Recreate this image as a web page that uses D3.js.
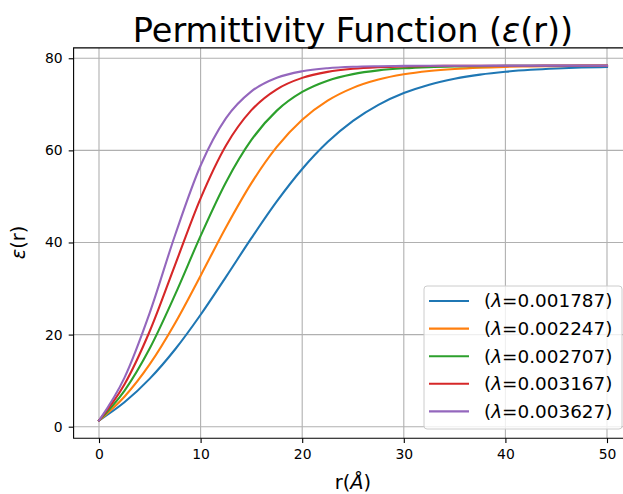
<!DOCTYPE html>
<html>
<head>
<meta charset="utf-8">
<script src="https://cdn.jsdelivr.net/npm/d3@7"></script>
<style>
  body { margin: 0; background: #fff; }
  svg { display: block; font-family: 'DejaVu Sans', sans-serif; }
  .grid line { stroke: #b0b0b0; stroke-width: 1.1; }
  .spine { stroke: #000; stroke-width: 1.1; fill: none; }
</style>
</head>
<body>
<svg id="chart" width="623" height="494"></svg>
<script>
let radius = [0, 2.5, 5, 7.5, 10, 12.5, 15, 17.5, 20, 22.5, 25, 27.5, 30, 32.5, 35, 37.5, 40, 42.5, 45, 47.5, 50]

// epsilon(r), one array per lambda
let eps001787 = [1.35, 5.30, 10.44, 16.82, 24.31, 32.54, 40.94, 48.91, 55.95, 61.80, 66.40, 69.89, 72.44, 74.27, 75.55, 76.45, 77.07, 77.49, 77.78, 77.98, 78.11]
let eps002247 = [1.35, 6.50, 13.57, 22.52, 32.79, 43.30, 52.88, 60.74, 66.64, 70.79, 73.57, 75.37, 76.51, 77.23, 77.68, 77.96, 78.13, 78.23, 78.30, 78.34, 78.36]
let eps002707 = [1.35, 7.79, 17.03, 28.73, 41.43, 53.09, 62.26, 68.63, 72.69, 75.14, 76.56, 77.37, 77.82, 78.08, 78.22, 78.30, 78.35, 78.37, 78.38, 78.39, 78.39]
let eps003167 = [1.35, 9.16, 20.78, 35.21, 49.58, 61.06, 68.73, 73.26, 75.74, 77.04, 77.71, 78.05, 78.23, 78.31, 78.36, 78.38, 78.39, 78.39, 78.40, 78.40, 78.40]
let eps003627 = [1.35, 10.61, 24.78, 41.68, 56.71, 66.99, 72.81, 75.77, 77.18, 77.84, 78.15, 78.28, 78.35, 78.38, 78.39, 78.39, 78.40, 78.40, 78.40, 78.40, 78.40]

let lambdas = ['0.001787', '0.002247', '0.002707', '0.003167', '0.003627']
let xTicks = [0, 10, 20, 30, 40, 50]
let yTicks = [0, 20, 40, 60, 80]

let seriesValues = [eps001787, eps002247, eps002707, eps003167, eps003627]
let colors = ['#1f77b4', '#ff7f0e', '#2ca02c', '#d62728', '#9467bd']

let plot = { left: 73.6, right: 632.4, top: 47.9, bottom: 438.2 }

let svg = d3.select('#chart')

let x = d3.scaleLinear().domain([-2.5, 52.5]).range([plot.left, plot.right])
let y = d3.scaleLinear().domain([-2.5, 82.25]).range([plot.bottom, plot.top])

svg.append('defs').append('clipPath').attr('id', 'plotClip')
  .append('rect')
  .attr('x', plot.left).attr('y', plot.top)
  .attr('width', plot.right - plot.left).attr('height', plot.bottom - plot.top)

// grid
let grid = svg.append('g').attr('class', 'grid').attr('clip-path', 'url(#plotClip)')
grid.selectAll('line.vx').data(xTicks).enter().append('line')
  .attr('class', 'vx')
  .attr('x1', d => x(d)).attr('x2', d => x(d))
  .attr('y1', plot.top).attr('y2', plot.bottom)
grid.selectAll('line.hy').data(yTicks).enter().append('line')
  .attr('class', 'hy')
  .attr('y1', d => y(d)).attr('y2', d => y(d))
  .attr('x1', plot.left).attr('x2', plot.right)

// curves
let line = d3.line()
  .x((d, i) => x(radius[i]))
  .y(d => y(d))
  .curve(d3.curveMonotoneX)

svg.append('g').attr('clip-path', 'url(#plotClip)')
  .selectAll('path').data(seriesValues).enter().append('path')
  .attr('d', d => line(d))
  .attr('fill', 'none')
  .attr('stroke', (d, i) => colors[i])
  .attr('stroke-width', 2.1)
  .attr('stroke-linecap', 'square')

// axes (tick marks + labels)
let xAxis = d3.axisBottom(x).tickValues(xTicks).tickSize(4.9).tickPadding(6)
let yAxis = d3.axisLeft(y).tickValues(yTicks).tickSize(4.9).tickPadding(6)

let gx = svg.append('g').attr('transform', `translate(0,${plot.bottom})`).call(xAxis)
let gy = svg.append('g').attr('transform', `translate(${plot.left},0)`).call(yAxis)

for (let g of [gx, gy]) {
  g.select('.domain').remove()
  g.selectAll('.tick line').attr('stroke', '#000').attr('stroke-width', 1.1)
  g.selectAll('.tick text')
    .style('font-family', 'DejaVu Sans').style('font-size', '13.9px').attr('fill', '#000')
}

// spines (right one falls outside the picture)
svg.append('path').attr('class', 'spine')
  .attr('d', `M${plot.right},${plot.top}H${plot.left}V${plot.bottom}H${plot.right}V${plot.top}`)

// title
let title = svg.append('text')
  .attr('x', (plot.left + plot.right) / 2).attr('y', 42)
  .attr('text-anchor', 'middle')
  .style('font-size', '33.5px')
title.append('tspan').text('Permittivity Function (')
title.append('tspan').style('font-style', 'italic').text('ε')
title.append('tspan').text('(r))')

// x label
let xLabel = svg.append('text')
  .attr('x', (plot.left + plot.right) / 2).attr('y', 489)
  .attr('text-anchor', 'middle')
  .style('font-size', '19.4px')
xLabel.append('tspan').text('r(')
xLabel.append('tspan').style('font-style', 'italic').text('Å')
xLabel.append('tspan').text(')')

// y label
let yLabel = svg.append('text')
  .attr('transform', `translate(25,${y(40)}) rotate(-90)`)
  .attr('text-anchor', 'middle')
  .style('font-size', '19.4px')
yLabel.append('tspan').style('font-style', 'italic').text('ε')
yLabel.append('tspan').text('(r)')

// legend
let legend = svg.append('g')
legend.append('rect')
  .attr('x', 424).attr('y', 286)
  .attr('width', 198).attr('height', 143)
  .attr('rx', 3)
  .attr('fill', '#fff').attr('fill-opacity', 0.8)
  .attr('stroke', '#cccccc').attr('stroke-width', 1)

let entries = legend.selectAll('g.entry').data(lambdas).enter().append('g')
  .attr('class', 'entry')
  .attr('transform', (d, i) => `translate(0,${301 + i * 27.6})`)

entries.append('line')
  .attr('x1', 429).attr('x2', 469)
  .attr('stroke', (d, i) => colors[i])
  .attr('stroke-width', 2.1)

let labels = entries.append('text')
  .attr('x', 484).attr('y', 6.4)
  .style('font-size', '18.4px')
labels.append('tspan').text('(')
labels.append('tspan').style('font-style', 'italic').text('λ')
labels.append('tspan').text(d => '=' + d + ')')
</script>
</body>
</html>
